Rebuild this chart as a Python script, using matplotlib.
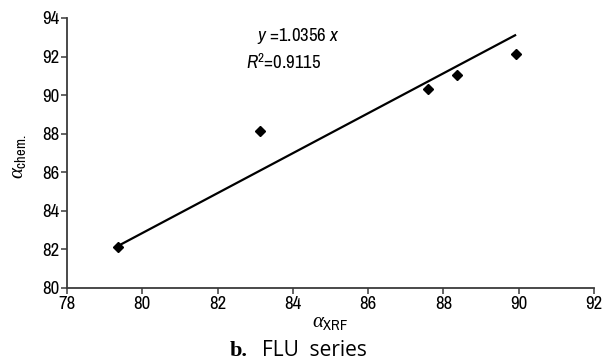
import matplotlib
matplotlib.use("Agg")
import matplotlib.pyplot as plt
import numpy as np

x_xrf = [79.35, 83.12, 87.60, 88.36, 89.93]
y_chem = [82.13, 88.14, 90.31, 91.07, 92.15]
slope = 1.0356
r2 = 0.9115
xticks = [78, 80, 82, 84, 86, 88, 90, 92]
yticks = [80, 82, 84, 86, 88, 90, 92, 94]

NARROW = ['Archivo Narrow', 'Liberation Sans', 'DejaVu Sans']
plt.rcParams['font.family'] = NARROW
plt.rcParams['mathtext.fontset'] = 'custom'
plt.rcParams['mathtext.it'] = 'Liberation Serif:italic'
plt.rcParams['mathtext.rm'] = 'Archivo Narrow'
plt.rcParams['mathtext.sf'] = 'Archivo Narrow:italic'

fig = plt.figure(figsize=(6.16, 3.62), dpi=100)
ax = fig.add_axes([67/616, 1-288/362, (594-67)/616, (288-18)/362])

xl = np.array([min(x_xrf), max(x_xrf)])
ax.plot(xl, slope*xl, color='black', lw=1.6, solid_capstyle='butt')
ax.plot(x_xrf, y_chem, linestyle='none', marker='D', ms=5.3, color='black')

ax.set_xlim(78, 92)
ax.set_ylim(80, 94)
ax.set_xticks(xticks)
ax.set_yticks(yticks)
ax.set_xticklabels([str(t) for t in xticks])
ax.set_yticklabels([str(t) for t in yticks])
for s in ['top', 'right']:
    ax.spines[s].set_visible(False)
for s in ['left', 'bottom']:
    ax.spines[s].set_color('#3a3a3a')
    ax.spines[s].set_linewidth(1.3)
ax.tick_params(direction='out', length=4.5, width=1.1, color='#3a3a3a',
               labelsize=13.5, pad=1)

fig.text(18/616, 1-157/362, r'$\alpha_{\mathrm{chem.}}$', rotation=90,
         ha='center', va='center', fontsize=15)
fig.text(330/616, 1-322/362, r'$\alpha_{\mathrm{XRF}}$',
         ha='center', va='center', fontsize=15)

fig.text(257/616, 1-36/362, r'$\mathsf{y}$' + ' =1.0356 ' + r'$\mathsf{x}$',
         fontsize=13.5, ha='left', va='center')
fig.text(246/616, 1-62/362, r'$\mathsf{R}^{2}$' + '=0.9115', fontsize=13.5,
         ha='left', va='center')

fig.text(230/616, 1-351/362, 'b.', ha='left', va='center', fontsize=16,
         fontweight='bold', family=['Liberation Serif', 'DejaVu Serif'])
fig.text(367/616, 1-351/362, 'FLU  series', ha='right', va='center',
         fontsize=15, family=['Open Sans', 'DejaVu Sans'])

fig.savefig('out.png', dpi=100)
